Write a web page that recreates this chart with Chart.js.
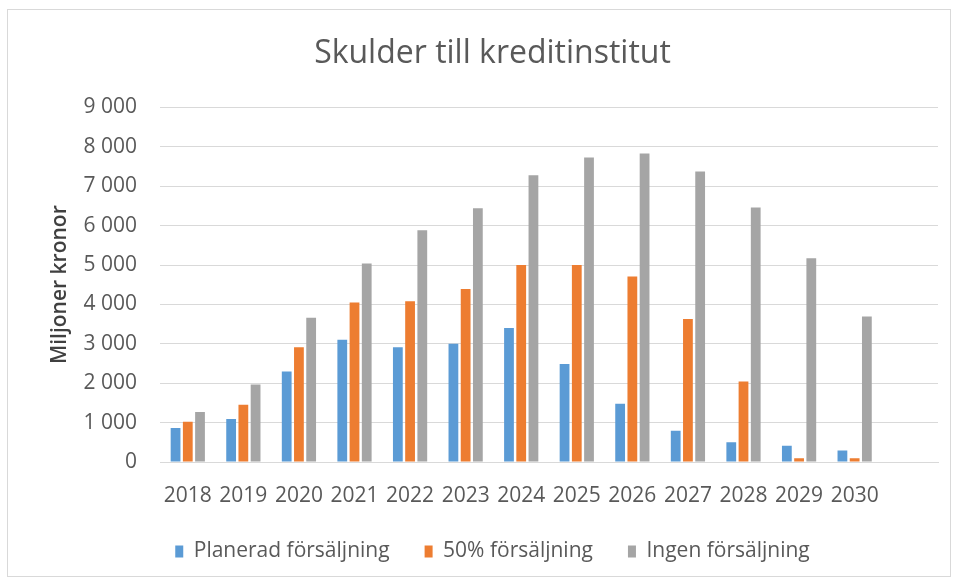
<!DOCTYPE html>
<html>
<head>
<meta charset="utf-8">
<script src="https://cdn.jsdelivr.net/npm/chart.js@4.4.0/dist/chart.umd.min.js"></script>
<style>
  html, body { margin: 0; padding: 0; background: #fff; }
  #wrap { position: relative; width: 955px; height: 582px; }
  #frame { position: absolute; left: 7px; top: 9px; width: 944px; height: 568px; border: 1px solid #d9d9d9; box-sizing: border-box; pointer-events: none; }
  canvas { position: absolute; left: 0; top: 0; }
</style>
</head>
<body>
<div id="wrap">
  <canvas id="c" width="955" height="582"></canvas>
  <div id="frame"></div>
</div>
<script>
const categories = ['2018','2019','2020','2021','2022','2023','2024','2025','2026','2027','2028','2029','2030',''];
const planerad = [860, 1090, 2300, 3100, 2910, 3000, 3400, 2490, 1480, 790, 500, 410, 290, null];
const halva    = [1020, 1450, 2910, 4050, 4080, 4390, 5000, 5000, 4710, 3630, 2040, 95, 95, null];
const ingen    = [1270, 1970, 3660, 5040, 5880, 6440, 7280, 7730, 7830, 7370, 6460, 5170, 3690, null];
const seriesNames = ['Planerad försäljning', '50% försäljning', 'Ingen försäljning'];
const yTicks = [0, 1000, 2000, 3000, 4000, 5000, 6000, 7000, 8000, 9000];

const FONT = '"Open Sans", "Noto Sans", sans-serif';
const TXT = '#595959';

function fmt(v) {
  return String(v).replace(/\B(?=(\d{3})+(?!\d))/g, ' ');
}

new Chart(document.getElementById('c'), {
  type: 'bar',
  data: {
    labels: categories,
    datasets: [
      { label: seriesNames[0], data: planerad, backgroundColor: '#5B9BD5' },
      { label: seriesNames[1], data: halva, backgroundColor: '#ED7D31' },
      { label: seriesNames[2], data: ingen, backgroundColor: '#A5A5A5' }
    ]
  },
  options: {
    responsive: false,
    animation: false,
    devicePixelRatio: 1,
    layout: { padding: { left: 47, right: 17, top: 0, bottom: 10 } },
    datasets: { bar: { categoryPercentage: 0.66, barPercentage: 0.8 } },
    plugins: {
      tooltip: { enabled: false },
      title: {
        display: true,
        text: 'Skulder till kreditinstitut',
        color: TXT,
        font: { family: FONT, size: 32, weight: 'normal' },
        padding: { top: 35, bottom: 34 }
      },
      legend: {
        position: 'bottom',
        labels: {
          color: TXT,
          font: { family: FONT, size: 21 },
          boxWidth: 8,
          boxHeight: 12,
          padding: 35
        }
      }
    },
    scales: {
      x: {
        grid: { display: false, drawTicks: false },
        border: { display: true, color: '#d9d9d9', width: 1 },
        ticks: { color: TXT, font: { family: FONT, size: 21 }, padding: 21, maxRotation: 0, autoSkip: false },
        afterFit: (s) => { s.height = 44; }
      },
      y: {
        min: 0, max: 9000,
        afterBuildTicks: (s) => { s.ticks = yTicks.map(v => ({ value: v })); },
        grid: { color: '#d9d9d9', drawTicks: false },
        border: { display: false },
        ticks: { color: TXT, font: { family: FONT, size: 21 }, padding: 23, callback: (v) => fmt(v) },
        title: {
          display: true,
          text: 'Miljoner kronor',
          color: '#404040',
          font: { family: FONT, size: 21, weight: '600' },
          padding: { top: 0, bottom: 0 }
        },
        afterFit: (s) => { s.width = 113; }
      }
    }
  }
});
</script>
</body>
</html>
